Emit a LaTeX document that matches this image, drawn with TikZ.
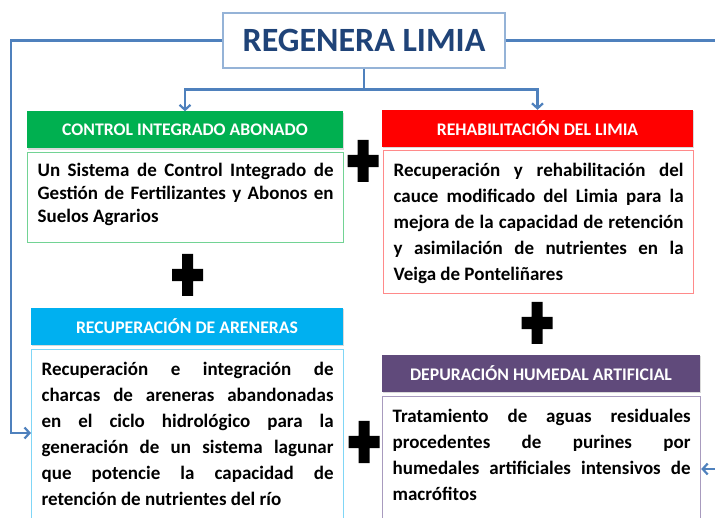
\documentclass[tikz,border=0pt]{standalone}
\usepackage{fontspec}
\setmainfont{Carlito}
\usepackage{tikz}
\usetikzlibrary{arrows.meta,shadows}
\definecolor{navy}{HTML}{1F4378}
\definecolor{linkblue}{HTML}{4F81BD}
\definecolor{titleframe}{HTML}{95B3D7}
\definecolor{ctrlgreen}{HTML}{00B050}
\definecolor{ctrlframe}{HTML}{72D394}
\definecolor{rehabred}{HTML}{FF0000}
\definecolor{rehabframe}{HTML}{FF8A8A}
\definecolor{arencyan}{HTML}{00B0F0}
\definecolor{arenframe}{HTML}{80D6F6}
\definecolor{deppurple}{HTML}{604A7B}
\definecolor{depframe}{HTML}{A89BBE}
\newcommand{\bodytext}[4]{\parbox[t][#1][t]{#2}{\rule{0pt}{#3}#4}}

\begin{document}
\begin{tikzpicture}[x=1pt,y=-1pt,
  link/.style={linkblue, line width=2.2pt},
  linkarrow/.style={link, -{Straight Barb[length=5pt,width=11pt]}},
  headbox/.style={fill=#1, text=white, minimum height=37pt, inner sep=0pt,
    font=\fontsize{17.7}{20}\selectfont\bfseries,
    drop shadow={shadow xshift=1pt, shadow yshift=-1.5pt, opacity=0.3}},
  bodybox/.style={draw=#1, line width=1.2pt, anchor=north west, inner xsep=10pt,
    inner ysep=0pt, font=\fontsize{19}{26}\selectfont\bfseries}]
\useasboundingbox (0,0) rectangle (715,518);

\node[draw=titleframe, line width=1.2pt, minimum width=282pt, minimum height=55pt,
  text=navy, font=\fontsize{34}{40}\selectfont\bfseries] (title) at (364,40.5) {REGENERA LIMIA};

\node[headbox=ctrlgreen, minimum width=316pt] (ctrlhead) at (185,130) {CONTROL INTEGRADO ABONADO};
\node[bodybox=ctrlframe, font=\fontsize{19}{23}\selectfont\bfseries] (ctrlbody) at (27,152)
  {\bodytext{90pt}{296pt}{23.5pt}{Un Sistema de Control Integrado de\linebreak
   Gestión de Fertilizantes y Abonos en\linebreak Suelos Agrarios}};

\node[headbox=rehabred, minimum width=311pt] (rehabhead) at (537.5,128.5) {REHABILITACIÓN DEL LIMIA};
\node[bodybox=rehabframe] (rehabbody) at (383,150)
  {\bodytext{143pt}{290pt}{26pt}{Recuperación y rehabilitación del\linebreak
   cauce modificado del Limia para la\linebreak mejora de la capacidad de retención\linebreak
   y asimilación de nutrientes en la\linebreak Veiga de Ponteliñares}};

\node[headbox=arencyan, minimum width=312pt] (arenhead) at (187,326.5) {RECUPERACIÓN DE ARENERAS};
\node[bodybox=arenframe] (arenbody) at (31,349)
  {\bodytext{185pt}{292pt}{26pt}{Recuperación e integración de\linebreak
   charcas de areneras abandonadas\linebreak en el ciclo hidrológico para la\linebreak
   generación de un sistema lagunar\linebreak que potencie la capacidad de\linebreak
   retención de nutrientes del río}};

\node[headbox=deppurple, minimum width=318pt] (dephead) at (541,373.5) {DEPURACIÓN HUMEDAL ARTIFICIAL};
\node[bodybox=depframe] (depbody) at (382,396)
  {\bodytext{140pt}{298pt}{26pt}{Tratamiento de aguas residuales\linebreak
   procedentes de purines por\linebreak humedales artificiales intensivos de\linebreak
   macrófitos}};

\draw[link] (title.south) -- ++(0,21) coordinate (fork);
\draw[linkarrow] (fork) -| (ctrlhead.north);
\draw[linkarrow] (fork) -| (rehabhead.north);
\coordinate (lturn) at (11,433);
\coordinate (rturn) at (730,469);
\draw[linkarrow] (title.west) -| (lturn) -- (lturn -| arenbody.west);
\draw[linkarrow] (title.east) -| (rturn) -- (rturn -| depbody.east);

\foreach \px/\py in {363/161, 187.5/275, 537/323, 364/442}
  \fill (\px-15.5,\py-6.2) rectangle (\px+15.5,\py+6.2)
        (\px-5.5,\py-21) rectangle (\px+5.5,\py+21);
\end{tikzpicture}
\end{document}
